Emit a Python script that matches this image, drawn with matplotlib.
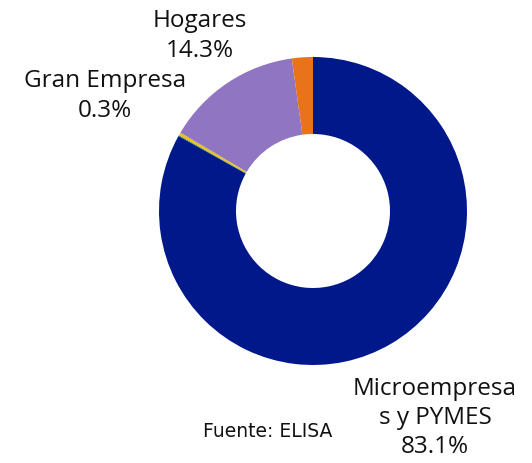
import matplotlib
matplotlib.use('Agg')
import matplotlib.pyplot as plt

# data, clockwise from the top
sectors = ['Microempresas y PYMES', 'Otros', 'Gran Empresa', 'Hogares', 'Sin clasificar']
shares = [83.1, 0.1, 0.3, 14.3, 2.2]
colors = ['#00188A', '#3E8E5C', '#E8C21E', '#8F75C2', '#E8731A']

label_text = {
    'Hogares': 'Hogares\n14.3%',
    'Gran Empresa': 'Gran Empresa\n0.3%',
    'Microempresas y PYMES': 'Microempresa\ns y PYMES\n83.1%',
}

W, H = 532, 464
fig = plt.figure(figsize=(W / 100, H / 100), dpi=100)
ax = fig.add_axes([0, 0, 1, 1])

ax.pie(shares, colors=colors, startangle=90, counterclock=False,
       center=(313, H - 212), radius=154,
       wedgeprops=dict(width=77, linewidth=0), frame=True)
ax.set_xlim(0, W)
ax.set_ylim(0, H)
ax.set_aspect('equal')
ax.axis('off')

font = 'Open Sans'
kw = dict(ha='center', va='center', fontsize=17.5, family=font,
          color='#111111', linespacing=1.3)
ax.text(200, H - 36, label_text['Hogares'], **kw)
ax.text(105, H - 96, label_text['Gran Empresa'], **kw)
ax.text(435, H - 418, label_text['Microempresas y PYMES'], **kw)
ax.text(268, H - 432, 'Fuente: ELISA', ha='center', va='center',
        fontsize=13.5, family='DejaVu Sans', color='#111111')

fig.savefig('out.png', dpi=100)
